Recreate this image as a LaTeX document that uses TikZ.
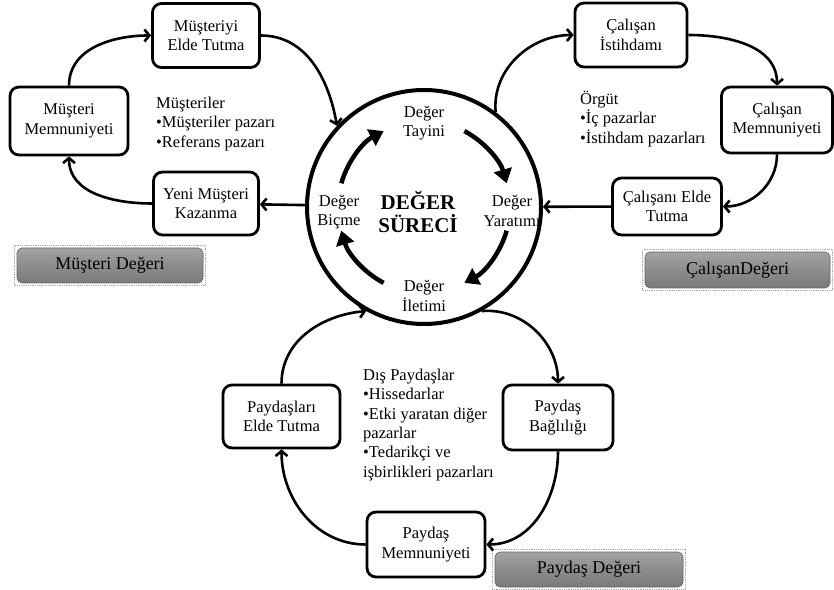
\documentclass[tikz,border=0pt]{standalone}
\usepackage{fontspec}
\setmainfont{Liberation Serif}
\usetikzlibrary{arrows.meta,shapes.geometric}
\begin{document}
\begin{tikzpicture}[x=1pt,y=1pt,
  box/.style={draw, line width=2.8pt, rounded corners=9pt, align=center,
    font=\fontsize{16.5}{19.5}\selectfont, inner sep=0pt},
  conn/.style={line width=2.6pt, -{Straight Barb[length=5pt,width=12pt]}},
  inarr/.style={line width=4.5pt, -{Triangle[length=14pt,width=18pt]}},
  lbl/.style={align=center, font=\fontsize{16.5}{19.5}\selectfont, inner sep=0pt},
  txt/.style={align=left, font=\fontsize{16.5}{19.3}\selectfont, inner sep=0pt},
  valbox/.style={rounded corners=5pt, draw=black!60, line width=0.6pt,
    top color=black!36, bottom color=black!52, middle color=black!45,
    font=\fontsize{18}{21}\selectfont, inner sep=0pt},
  dotframe/.style={draw=black!35, densely dotted, line width=0.8pt}
]
\useasboundingbox (0,0) rectangle (834,589);

% central circle
\node[circle, draw, line width=4pt, minimum size=234pt, inner sep=0pt] (circ) at (424,382) {};
\node[lbl] (tayini) at (424,466) {Değer\\Tayini};
\node[lbl] (yaratimi) at (512,378) {Değer\\Yaratımı};
\node[lbl] (iletimi) at (424,293) {Değer\\İletimi};
\node[lbl] (bicme) at (339,377) {Değer\\Biçme};
\node[align=center, font=\bfseries\fontsize{21}{23}\selectfont, inner sep=0pt] (title) at (418,377) {DEĞER\\SÜRECİ};

\draw[inarr] ([shift={(164:86)}]circ.center) arc[start angle=164, end angle=118, radius=86];
\draw[inarr] ([shift={(62:86)}]circ.center) arc[start angle=62, end angle=16, radius=86];
\draw[inarr] ([shift={(-16:86)}]circ.center) arc[start angle=-16, end angle=-62, radius=86];
\draw[inarr] ([shift={(242:86)}]circ.center) arc[start angle=242, end angle=196, radius=86];

% customer group
\node[box, minimum width=107pt, minimum height=64pt] (met) at (206,553.5) {Müşteriyi\\Elde Tutma};
\node[box, minimum width=118pt, minimum height=68pt] (mm) at (69,468) {Müşteri\\Memnuniyeti};
\node[box, minimum width=105pt, minimum height=63pt] (ymk) at (206,385.5) {Yeni Müşteri\\Kazanma};
\node[txt, anchor=west] (mtxt) at (156,465) {Müşteriler\\•Müşteriler pazarı\\•Referans pazarı};
\node[valbox, minimum width=186pt, minimum height=35pt] (mdeg) at (110,323.5) {Müşteri Değeri};
\draw[dotframe] ([shift={(-2,-2)}]mdeg.south west) rectangle ([shift={(2,2)}]mdeg.north east);

\draw[conn] (mm.north) to[out=90,in=180] (met.west);
\draw[conn] (met.east) to[out=0,in=100] (circ.137);
\draw[conn] (circ) -- (ymk);
\draw[conn] (ymk.west) to[out=180,in=270] (mm.south);

% employee group
\node[box, minimum width=112pt, minimum height=64pt] (ci) at (631,554) {Çalışan\\İstihdamı};
\node[box, minimum width=111pt, minimum height=66pt] (cm) at (777,469) {Çalışan\\Memnuniyeti};
\node[box, minimum width=109pt, minimum height=57pt] (cet) at (667,382.5) {Çalışanı Elde\\Tutma};
\node[txt, anchor=west] (otxt) at (580,470) {Örgüt\\•İç pazarlar\\•İstihdam pazarları};
\node[valbox, minimum width=185pt, minimum height=36pt] (cdeg) at (737.5,319) {ÇalışanDeğeri};
\draw[dotframe] ([shift={(-2,-2)}]cdeg.south west) rectangle ([shift={(2,2)}]cdeg.north east);

\draw[conn] (circ.53) to[out=95,in=180] (ci.west);
\draw[conn] (ci.east) to[out=0,in=90] (cm.north);
\draw[conn] (cm.south) to[out=270,in=0] (cet.east);
\draw[conn] (cet) -- (circ);

% stakeholder group
\node[box, minimum width=117pt, minimum height=63pt] (pet) at (281.5,172.5) {Paydaşları\\Elde Tutma};
\node[box, minimum width=118pt, minimum height=65pt] (pm) at (426,44.5) {Paydaş\\Memnuniyeti};
\node[box, minimum width=110pt, minimum height=65pt] (pb) at (558,171.5) {Paydaş\\Bağlılığı};
\node[txt, anchor=north west] (dtxt) at (363,220) {Dış Paydaşlar\\•Hissedarlar\\•Etki yaratan diğer\\pazarlar\\•Tedarikçi ve\\işbirlikleri pazarları};
\node[valbox, minimum width=188pt, minimum height=35pt] (pdeg) at (589,19.5) {Paydaş Değeri};
\draw[dotframe] ([shift={(-2,-2)}]pdeg.south west) rectangle ([shift={(2,2)}]pdeg.north east);

\draw[conn] (circ.-61) to[out=5,in=90] (pb.north);
\draw[conn] (pb.south) to[out=270,in=0] (pm.east);
\draw[conn] (pm.west) to[out=180,in=270] (pet.south);
\draw[conn] (pet.north) to[out=90,in=185] (circ.-119);
\end{tikzpicture}
\end{document}
